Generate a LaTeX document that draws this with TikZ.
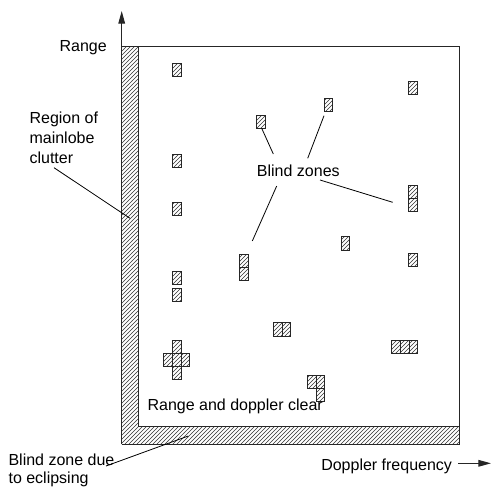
\documentclass[tikz,border=0pt]{standalone}
\usepackage{fontspec}
\setmainfont{Liberation Sans}
\usetikzlibrary{patterns,arrows.meta}
\begin{document}
\begin{tikzpicture}[x=0.75pt,y=-0.75pt,
  cell/.style={draw=black!85, line width=0.7pt, pattern=north east lines, pattern color=black!80, minimum width=6.5pt, minimum height=10pt, inner sep=0pt, outer sep=0pt, anchor=north west},
  lbl/.style={font=\fontsize{12}{15}\selectfont, inner sep=0pt, anchor=base west},
  leader/.style={line width=0.6pt},
  frame/.style={line width=0.75pt, draw=black!85},
  axisarrow/.style={line width=0.75pt, draw=black!85, -{Triangle[length=9.5pt,width=5pt]}}]
\useasboundingbox (0,0) rectangle (491,489);
% axes and frame
\coordinate (O) at (121.7,444.3);
\coordinate (ytip) at (121.7,11);
\coordinate (tl) at (121.7,46);
\coordinate (tr) at (459,46);
\coordinate (br) at (459,444.3);
\coordinate (itl) at (138.3,46);
\coordinate (ibl) at (138.3,426.7);
\coordinate (ibr) at (459,426.7);
\fill[pattern=north east lines, pattern color=black!80] (tl) -- (itl) -- (ibl) -- (ibr) -- (br) -- (O) -- cycle;
\draw[frame] (O) -- (br) -- (tr) -- (tl);
\draw[frame] (itl) -- (ibl) -- (ibr);
\draw[axisarrow] (O) -- (ytip);
\coordinate (xs) at (458.3,463.3);
\coordinate (xtip) at (491,463.3);
\draw[axisarrow] (xs) -- (xtip);
% cells
\node[cell] (c1) at (172.3,63.3) {};
\node[cell] (c2) at (172.3,154.3) {};
\node[cell] (c3) at (172.3,202.3) {};
\node[cell] (c4) at (256.7,115) {};
\node[cell] (c5) at (324,98.3) {};
\node[cell] (c6) at (408.7,81) {};
\node[cell] (c7a) at (408.7,185) {};
\node[cell] (c7b) at (408.7,198.3) {};
\node[cell] (c8) at (341,236.7) {};
\node[cell] (c9) at (408.7,253.3) {};
\node[cell] (c10a) at (172.3,271) {};
\node[cell] (c10b) at (172.3,288) {};
\node[cell] (c11a) at (239.5,254) {};
\node[cell] (c11b) at (239.5,267.3) {};
\node[cell] (x1) at (172.3,340) {};
\node[cell] (x2) at (163.6,353.3) {};
\node[cell] (x3) at (181,353.3) {};
\node[cell] (x4) at (172.3,366.6) {};
\node[cell] (x5) at (172.3,353.3) {};
\node[cell] (c13a) at (273.3,322.7) {};
\node[cell] (c13b) at (282,322.7) {};
\node[cell] (c14a) at (391.7,340.3) {};
\node[cell] (c14b) at (400.4,340.3) {};
\node[cell] (c14c) at (409.1,340.3) {};
\node[cell] (c15a) at (307.3,375) {};
\node[cell] (c15b) at (316,375) {};
\node[cell] (c15c) at (316,388.3) {};
% labels
\node[lbl] (range) at (59.3,51.7) {Range};
\node[lbl] (reg1) at (29.3,123) {Region of};
\node[lbl] (reg2) at (29.3,143) {mainlobe};
\node[lbl] (reg3) at (29.3,163.3) {clutter};
\node[lbl] (bz) at (256.7,176) {Blind zones};
\node[lbl] (clear) at (147.3,410) {Range and doppler clear};
\node[lbl] (dop) at (321,470) {Doppler frequency};
\node[lbl] (ecl1) at (8.3,465) {Blind zone due};
\node[lbl] (ecl2) at (8.3,483.3) {to eclipsing};
% leaders
\coordinate (l1a) at (54,167.7);   \coordinate (l1b) at (130,218.3);
\coordinate (l2a) at (106,466);    \coordinate (l2b) at (188.3,436);
\coordinate (b1a) at (273.3,154);  \coordinate (b1b) at (261.7,128.3);
\coordinate (b2a) at (307.7,158.3);\coordinate (b2b) at (324,115.7);
\coordinate (b3a) at (320,180);    \coordinate (b3b) at (392.7,202.3);
\coordinate (b4a) at (276.7,186);  \coordinate (b4b) at (252.3,241);
\draw[leader] (l1a) -- (l1b);
\draw[leader] (l2a) -- (l2b);
\draw[leader] (b1a) -- (b1b);
\draw[leader] (b2a) -- (b2b);
\draw[leader] (b3a) -- (b3b);
\draw[leader] (b4a) -- (b4b);
\end{tikzpicture}
\end{document}
